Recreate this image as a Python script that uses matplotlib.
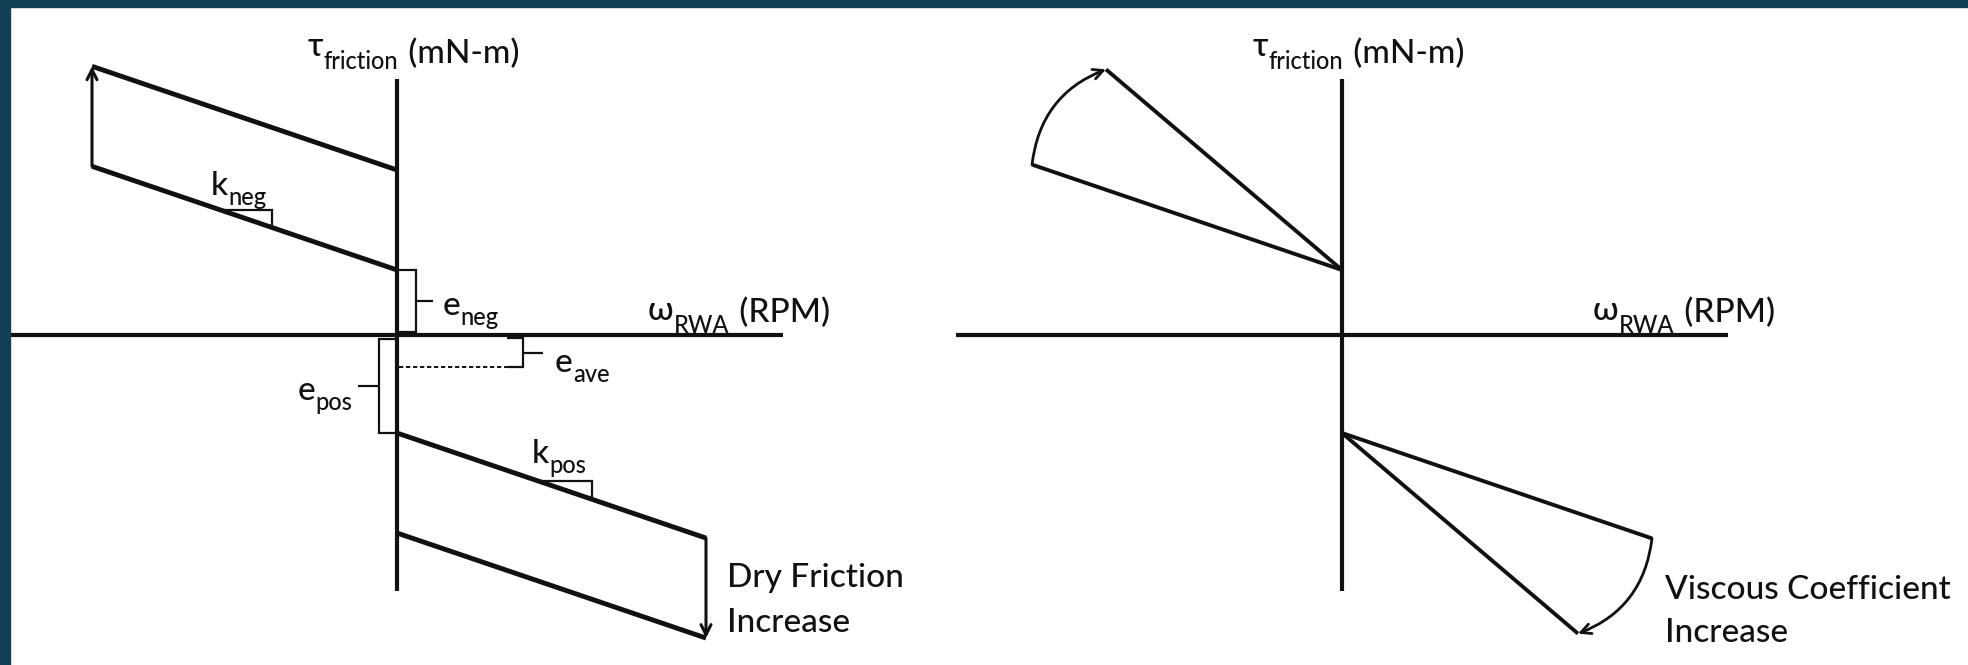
import numpy as np
import matplotlib
matplotlib.use("Agg")
import matplotlib.pyplot as plt
from matplotlib.patches import FancyArrowPatch, Rectangle

FAMILY = ["Lato", "Noto Sans", "DejaVu Sans"]
plt.rcParams["font.family"] = FAMILY
plt.rcParams["font.weight"] = "medium"

# ---- dry-friction model (left): torque = e + k * omega on each side of zero speed
omega_neg = np.array([-305.0, 0.0])
omega_pos = np.array([0.0, 309.0])
k_neg = -0.34
k_pos = -0.34
e_neg = 65.0
e_pos = -98.0
e_ave = -32.0
dry_step = 100.0

# ---- viscous model (right): same offsets, slope grows with the viscous coefficient
omega_low = 310.0
omega_high = 236.0
k_low = -0.34
k_high = -0.85

# axis half-lengths (same units as omega / torque above)
axis_half_w = 386.0
axis_half_h = 256.0

INK = "#111111"
BORDER = "#133f56"
BIG = 24
SMALL = 17
AX_LW = 3.0
LINE_LW = 3.5
FAN_LW = 2.8
THIN_LW = 1.6

W, H = 1968, 665
fig = plt.figure(figsize=(W / 100, H / 100), dpi=100)
fig.patch.set_facecolor("white")

ax_l = fig.add_axes([10 / W, 0, 974 / W, 658 / H])
ax_l.set_xlim(-387, 587)
ax_l.set_ylim(-330, 328)
ax_r = fig.add_axes([984 / W, 0, 984 / W, 658 / H])
ax_r.set_xlim(-358, 626)
ax_r.set_ylim(-330, 328)
for ax in (ax_l, ax_r):
    ax.set_axis_off()

# frame bands along the top and left edges
fig.add_artist(Rectangle((0, 1 - 7 / H), 1, 7 / H, transform=fig.transFigure,
                         color=BORDER, zorder=10))
fig.add_artist(Rectangle((0, 0), 10 / W, 1, transform=fig.transFigure,
                         color=BORDER, zorder=10))


def torque(w, e, k):
    return e + k * np.asarray(w)


def line(ax, xs, ys, lw, **kw):
    ax.plot(xs, ys, color=INK, lw=lw, solid_capstyle="butt",
            solid_joinstyle="miter", clip_on=False, **kw)


def arrow(ax, p0, p1, rad=0.0, lw=2.0):
    ax.add_patch(FancyArrowPatch(p0, p1, arrowstyle="->", mutation_scale=18,
                                 connectionstyle=f"arc3,rad={rad}", lw=lw,
                                 color=INK, shrinkA=0, shrinkB=0, clip_on=False))


def sub_label(ax, x, y, main, sub, y_sub, tail=None, y_tail=None, align="left"):
    """Text with a lowered subscript, optionally followed by more text."""
    if align == "left":
        m = ax.text(x, y, main, fontsize=BIG, ha="left", va="baseline", color=INK)
        s = ax.annotate(sub, xy=(1, y_sub), xycoords=(m, "data"), fontsize=SMALL,
                        ha="left", va="baseline", color=INK)
        if tail is not None:
            ax.annotate(tail, xy=(1, y_tail), xycoords=(s, "data"),
                        xytext=(1, 0), textcoords="offset points",
                        fontsize=BIG, ha="left", va="baseline", color=INK)
    else:
        s = ax.text(x, y_sub, sub, fontsize=SMALL, ha="right", va="baseline", color=INK)
        ax.annotate(main, xy=(0, y), xycoords=(s, "data"), fontsize=BIG,
                    ha="right", va="baseline", color=INK)


def axes_cross(ax):
    line(ax, [-axis_half_w, axis_half_w], [0, 0], AX_LW)
    line(ax, [0, 0], [-axis_half_h, axis_half_h], AX_LW)
    sub_label(ax, -89, 279, "τ", "friction", 266, " (mN-m)", 272)
    sub_label(ax, 251, 15, "ω", "RWA", 2, " (RPM)", 13)


# ================= left panel: dry friction =================
ax = ax_l
axes_cross(ax)

upper = torque(omega_neg, e_neg, k_neg)
lower = torque(omega_pos, e_pos, k_pos)
line(ax, omega_neg, upper, LINE_LW)
line(ax, omega_neg, upper + dry_step, LINE_LW)
line(ax, omega_pos, lower, LINE_LW)
line(ax, omega_pos, lower - dry_step, LINE_LW)

# dry friction increase arrows
arrow(ax, (omega_neg[0], upper[0]), (omega_neg[0], upper[0] + dry_step), lw=2.2)
arrow(ax, (omega_pos[-1], lower[-1]), (omega_pos[-1], lower[-1] - dry_step), lw=2.2)

# slope triangles
for (x0, x1), e, k in (((-177.0, -125.0), e_neg, k_neg), ((140.0, 195.0), e_pos, k_pos)):
    y0 = torque(x0, e, k)
    y1 = torque(x1, e, k)
    line(ax, [x0, x1, x1], [y0, y0, y1], THIN_LW)
sub_label(ax, -186, 140, "k", "neg", 130)
sub_label(ax, 135, -128, "k", "pos", -138)

# offset brackets
mid = (e_neg + 3) / 2
line(ax, [2, 19, 19, 2], [e_neg, e_neg, 3, 3], THIN_LW)
line(ax, [19, 36], [mid, mid], THIN_LW)
sub_label(ax, 46, 20, "e", "neg", 10)

mid = (e_pos - 4) / 2
line(ax, [-2, -18, -18, -2], [-4, -4, e_pos, e_pos], THIN_LW)
line(ax, [-18, -39], [mid, mid], THIN_LW)
sub_label(ax, -45, -65, "e", "pos", -75, align="right")

ax.plot([2, 110], [e_ave, e_ave], color=INK, lw=1.4, dashes=(2.2, 1.4))
mid = (e_ave - 3) / 2
line(ax, [110, 126, 126, 110], [-3, -3, e_ave, e_ave], THIN_LW)
line(ax, [126, 146], [mid, mid], THIN_LW)
sub_label(ax, 158, -37, "e", "ave", -47)

ax.text(330, -252, "Dry Friction", fontsize=BIG, ha="left", va="baseline", color=INK)
ax.text(330, -297, "Increase", fontsize=BIG, ha="left", va="baseline", color=INK)

# ================= right panel: viscous coefficient =================
ax = ax_r
axes_cross(ax)

neg_low = (-omega_low, float(torque(-omega_low, e_neg, k_low)))
neg_high = (-omega_high, float(torque(-omega_high, e_neg, k_high)))
pos_low = (omega_low, float(torque(omega_low, e_pos, k_low)))
pos_high = (omega_high, float(torque(omega_high, e_pos, k_high)))

for end in (neg_low, neg_high):
    line(ax, [end[0], 0], [end[1], e_neg], FAN_LW)
for end in (pos_low, pos_high):
    line(ax, [0, end[0]], [e_pos, end[1]], FAN_LW)

arrow(ax, neg_low, neg_high, rad=-0.3, lw=2.0)
arrow(ax, pos_low, pos_high, rad=-0.3, lw=2.0)

ax.text(323, -264, "Viscous Coefficient", fontsize=BIG, ha="left", va="baseline", color=INK)
ax.text(323, -307, "Increase", fontsize=BIG, ha="left", va="baseline", color=INK)

fig.savefig("out.png", dpi=100, facecolor=fig.get_facecolor())
